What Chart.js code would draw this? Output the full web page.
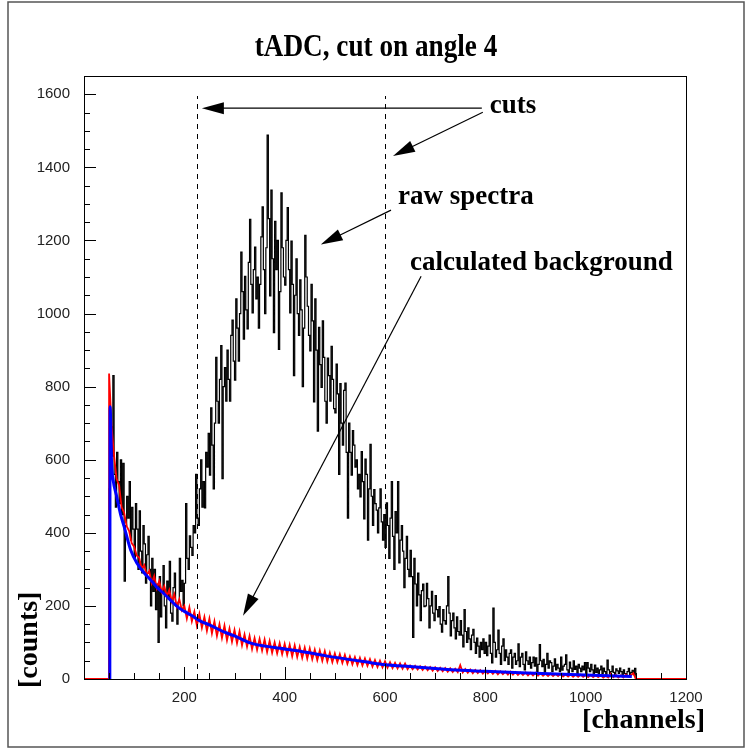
<!DOCTYPE html>
<html>
<head>
<meta charset="utf-8">
<title>tADC, cut on angle 4</title>
<script src="https://cdn.jsdelivr.net/npm/chart.js@4.4.1/dist/chart.umd.min.js"></script>
<style>
  html, body { margin: 0; padding: 0; background: #fff; }
  #wrap { width: 752px; height: 755px; }
</style>
</head>
<body>
<div id="wrap"><canvas id="tadcChart" width="752" height="755"></canvas></div>
<script>
// histogram binning (channels): lower edge of first bin and bin widths
const binStart = 50;
const rawBinWidth = 2.5;
const bgBinWidth = 5;

// raw spectra, channels 50 .. 1097.5 (one row = 50 channels)
const rawCounts = [
  520, 690, 610, 830, 560, 470, 620, 540, 480, 600, 450, 590, 268, 420, 500, 440, 540, 380, 470, 410,
  330, 480, 410, 300, 460, 350, 290, 420, 370, 262, 340, 390, 300, 200, 330, 240, 300, 190, 260, 100,
  280, 170, 240, 310, 200, 140, 268, 220, 322, 180, 158, 250, 290, 200, 150, 210, 330, 240, 270, 200,
  262, 480, 330, 300, 392, 360, 338, 420, 400, 560, 440, 420, 520, 600, 470, 540, 468, 620, 580, 672,
  558, 742, 640, 520, 700, 880, 760, 700, 820, 912, 548, 800, 852, 760, 900, 820, 760, 940, 982, 870,
  818, 1040, 960, 870, 1000, 1168, 1060, 930, 1102, 1010, 958, 1140, 1258, 1080, 1002, 1120, 1182, 1040, 1100, 960,
  1080, 1210, 1292, 1120, 1000, 1180, 1488, 1260, 1048, 1338, 1150, 948, 1252, 1120, 1200, 902, 1060, 1330, 1180, 1100,
  1078, 1200, 1290, 1120, 1002, 1198, 1080, 830, 1050, 1150, 1000, 940, 1092, 1010, 800, 960, 1214, 1100, 1020, 940,
  898, 1080, 980, 758, 1040, 900, 678, 962, 860, 798, 980, 880, 760, 700, 878, 830, 760, 910, 820, 740,
  728, 862, 780, 560, 808, 700, 640, 790, 810, 620, 440, 700, 620, 558, 680, 640, 580, 600, 520, 560,
  498, 622, 540, 438, 602, 560, 380, 520, 642, 500, 420, 518, 480, 462, 400, 468, 520, 430, 380, 450,
  360, 482, 420, 330, 440, 540, 390, 300, 458, 400, 540, 318, 380, 420, 350, 250, 330, 390, 300, 280,
  352, 280, 114, 330, 260, 200, 290, 230, 160, 242, 260, 198, 200, 262, 220, 140, 200, 240, 180, 160,
  228, 190, 170, 198, 150, 128, 190, 160, 150, 200, 280, 180, 118, 160, 180, 140, 110, 170, 130, 120,
  160, 120, 88, 190, 130, 100, 140, 110, 80, 120, 136, 100, 70, 112, 90, 60, 100, 80, 110, 70,
  100, 64, 90, 120, 70, 44, 194, 100, 60, 80, 134, 70, 40, 90, 110, 50, 80, 60, 40, 70,
  80, 30, 60, 70, 40, 50, 96, 34, 60, 70, 40, 25, 74, 50, 40, 60, 30, 45, 60, 35,
  58, 20, 40, 94, 50, 34, 54, 15, 40, 70, 30, 50, 45, 20, 35, 55, 25, 40, 30, 20,
  60, 24, 35, 40, 66, 25, 14, 46, 30, 20, 50, 26, 35, 15, 40, 30, 20, 35, 25, 45,
  15, 45, 30, 20, 40, 25, 10, 38, 18, 30, 12, 25, 35, 15, 30, 20, 12, 52, 25, 15,
  20, 35, 18, 10, 28, 22, 15, 30, 20, 8, 25, 15, 12, 20, 29, 10, 18, 24, 12, 29
];

// background spectrum, channels 50 .. 1095
const bgCounts = [
  836, 690, 610, 548, 530, 470, 455, 418, 405, 372,
  362, 338, 332, 302, 312, 284, 296, 262, 282, 248,
  268, 238, 254, 226, 244, 212, 232, 198, 218, 188,
  200, 165, 196, 158, 184, 146, 178, 140, 170, 132,
  165, 125, 158, 118, 150, 112, 146, 106, 138, 102,
  134, 98, 130, 92, 122, 88, 118, 82, 112, 80,
  110, 78, 108, 74, 104, 72, 100, 70, 98, 68,
  96, 66, 94, 62, 92, 60, 88, 58, 86, 56,
  84, 54, 80, 52, 78, 50, 76, 48, 72, 46,
  70, 46, 68, 44, 66, 42, 62, 40, 60, 38,
  58, 37, 56, 36, 54, 34, 52, 33, 50, 32,
  48, 31, 46, 30, 44, 29, 43, 28, 42, 27,
  37, 27, 36, 26, 35, 25, 34, 24, 33, 23,
  32, 22, 31, 21, 30, 20, 29, 19, 28, 19,
  38, 18, 27, 17, 26, 16, 25, 16, 24, 15,
  23, 15, 22, 14, 22, 13, 21, 13, 20, 12,
  20, 12, 19, 11, 18, 11, 18, 10, 17, 10,
  17, 9, 16, 9, 15, 8, 15, 8, 14, 8,
  14, 7, 13, 7, 13, 6, 12, 6, 12, 6,
  11, 5, 11, 5, 10, 5, 10, 4, 9, 4,
  14, 5, 11, 4, 10, 4, 12, 7, 10, 16
];

// calculated background curve
const fitChannels = [51.5, 52, 55, 58, 65, 73, 80, 93, 106, 120, 133, 146, 159, 173, 186, 200,
  213, 231, 252, 280, 300, 331, 380, 431, 480, 531, 560, 601, 650, 700, 732, 800, 899, 1000, 1092];
const fitCounts = [0, 745, 590, 545, 500, 450, 417, 353, 316, 290, 271, 250, 234, 215, 198, 185,
  175, 159, 147, 128, 118, 99, 86, 76, 64, 53, 47, 39, 34, 29, 25, 21, 16, 11, 7];

const xLabels = [200, 400, 600, 800, 1000, 1200];
const yLabels = [0, 200, 400, 600, 800, 1000, 1200, 1400, 1600];
const cutChannels = [225, 600];

// annotation texts and arrows, in data units
const cutTop = 1595;
const notes = [
  { text: 'cuts', x: 809, y: 1548 },
  { text: 'raw spectra', x: 626, y: 1300 },
  { text: 'calculated background', x: 650, y: 1120 }
];
const arrows = [
  { from: [793, 1562], to: [235, 1562] },
  { from: [795, 1551], to: [616, 1431] },
  { from: [612, 1283], to: [472, 1189] },
  { from: [672, 1102], to: [317, 173] }
];

const serif = '"Liberation Serif", "Times New Roman", serif';
const sans = '"Liberation Sans", Arial, sans-serif';

function histPoints(counts, width) {
  const pts = [{ x: 0, y: 0 }, { x: binStart, y: 0 }];
  counts.forEach((c, i) => pts.push({ x: binStart + i * width, y: c }));
  pts.push({ x: binStart + counts.length * width, y: 0 }, { x: 1200, y: 0 });
  return pts;
}

function drawArrow(ctx, x1, y1, x2, y2) {
  const ang = Math.atan2(y2 - y1, x2 - x1);
  const len = 22, half = 6;
  ctx.beginPath();
  ctx.moveTo(x1, y1);
  ctx.lineTo(x2 - Math.cos(ang) * len * 0.8, y2 - Math.sin(ang) * len * 0.8);
  ctx.stroke();
  ctx.beginPath();
  ctx.moveTo(x2, y2);
  ctx.lineTo(x2 - Math.cos(ang) * len - Math.sin(ang) * half, y2 - Math.sin(ang) * len + Math.cos(ang) * half);
  ctx.lineTo(x2 - Math.cos(ang) * len + Math.sin(ang) * half, y2 - Math.sin(ang) * len - Math.cos(ang) * half);
  ctx.closePath();
  ctx.fill();
}

const decorations = {
  id: 'decorations',
  afterDatasetsDraw(chart) {
    const { ctx, scales: { x, y } } = chart;
    ctx.save();
    // dashed cut lines
    ctx.strokeStyle = '#000';
    ctx.lineWidth = 1;
    ctx.setLineDash([5, 5]);
    cutChannels.forEach(c => {
      const px = Math.round(x.getPixelForValue(c)) + 0.5;
      ctx.beginPath();
      ctx.moveTo(px, y.getPixelForValue(0));
      ctx.lineTo(px, y.getPixelForValue(cutTop));
      ctx.stroke();
    });
    ctx.setLineDash([]);
    // arrows
    ctx.fillStyle = '#000';
    ctx.lineWidth = 1.2;
    arrows.forEach(a => {
      drawArrow(ctx, x.getPixelForValue(a.from[0]), y.getPixelForValue(a.from[1]),
        x.getPixelForValue(a.to[0]), y.getPixelForValue(a.to[1]));
    });
    // labels
    ctx.font = 'bold 27px ' + serif;
    ctx.textAlign = 'left';
    ctx.textBaseline = 'alphabetic';
    notes.forEach(n => ctx.fillText(n.text, x.getPixelForValue(n.x), y.getPixelForValue(n.y)));
    ctx.restore();
  },
  afterDraw(chart) {
    const { ctx, chartArea: a, scales: { x, y } } = chart;
    ctx.save();
    ctx.strokeStyle = '#000';
    ctx.lineWidth = 1;
    // inside tick marks
    ctx.beginPath();
    x.ticks.forEach(t => {
      if (t.value <= 0 || t.value >= 1200) return;
      const px = Math.round(x.getPixelForValue(t.value)) + 0.5;
      const len = t.value % 200 === 0 ? 12 : 6;
      ctx.moveTo(px, a.bottom);
      ctx.lineTo(px, a.bottom - len);
    });
    y.ticks.forEach(t => {
      if (t.value <= 0) return;
      const py = Math.round(y.getPixelForValue(t.value)) + 0.5;
      const len = t.value % 200 === 0 ? 12 : 6;
      ctx.moveTo(a.left, py);
      ctx.lineTo(a.left + len, py);
    });
    ctx.stroke();
    // frame
    ctx.strokeRect(Math.round(a.left) + 0.5, Math.round(a.top) + 0.5,
      Math.round(a.right - a.left), Math.round(a.bottom - a.top));
    // title, centred on the page
    ctx.fillStyle = '#000';
    ctx.save();
    ctx.translate(376, 56);
    ctx.scale(0.85, 1);
    ctx.font = 'bold 32px ' + serif;
    ctx.textAlign = 'center';
    ctx.fillText('tADC, cut on angle 4', 0, 0);
    ctx.restore();
    // axis titles
    ctx.font = 'bold 28px ' + serif;
    ctx.textAlign = 'right';
    ctx.fillText('[channels]', 705, 728);
    ctx.translate(37, 688);
    ctx.rotate(-Math.PI / 2);
    ctx.textAlign = 'left';
    ctx.fillText('[counts]', 0, 0);
    ctx.restore();
    // outer border
    ctx.save();
    ctx.strokeStyle = '#555';
    ctx.lineWidth = 1.5;
    ctx.strokeRect(8, 2, 736, 745);
    ctx.restore();
  }
};

const ctx = document.getElementById('tadcChart').getContext('2d');
new Chart(ctx, {
  type: 'line',
  data: {
    datasets: [
      {
        label: 'calculated background',
        data: fitChannels.map((c, i) => ({ x: c, y: fitCounts[i] })),
        borderColor: '#0000ff',
        borderWidth: 3,
        pointRadius: 0,
        cubicInterpolationMode: 'monotone',
        order: 0
      },
      {
        label: 'background',
        data: histPoints(bgCounts, bgBinWidth),
        borderColor: '#ff0000',
        borderWidth: 1.8,
        pointRadius: 0,
        tension: 0,
        order: 1
      },
      {
        label: 'raw spectra',
        data: histPoints(rawCounts, rawBinWidth),
        borderColor: '#000000',
        borderWidth: 1.2,
        pointRadius: 0,
        stepped: true,
        order: 2
      }
    ]
  },
  options: {
    responsive: false,
    animation: false,
    events: [],
    layout: { padding: { left: 0, right: 66, top: 76, bottom: 0 } },
    plugins: {
      legend: { display: false },
      tooltip: { enabled: false },
      title: { display: false }
    },
    scales: {
      x: {
        type: 'linear',
        min: 0,
        max: 1200,
        afterFit: s => { s.height = 76; },
        grid: { display: false, drawTicks: false },
        border: { display: true, color: '#000', width: 1 },
        ticks: {
          stepSize: 50,
          autoSkip: false,
          maxRotation: 0,
          padding: 10,
          color: '#222',
          font: { family: sans, size: 15 },
          callback: v => xLabels.includes(v) ? String(v) : ''
        }
      },
      y: {
        type: 'linear',
        min: 0,
        max: 1650,
        afterFit: s => { s.width = 84; },
        grid: { display: false, drawTicks: false },
        border: { display: true, color: '#000', width: 1 },
        ticks: {
          stepSize: 50,
          autoSkip: false,
          padding: 14,
          color: '#222',
          font: { family: sans, size: 15 },
          callback: v => yLabels.includes(v) ? String(v) : ''
        }
      }
    }
  },
  plugins: [decorations]
});
</script>
</body>
</html>
